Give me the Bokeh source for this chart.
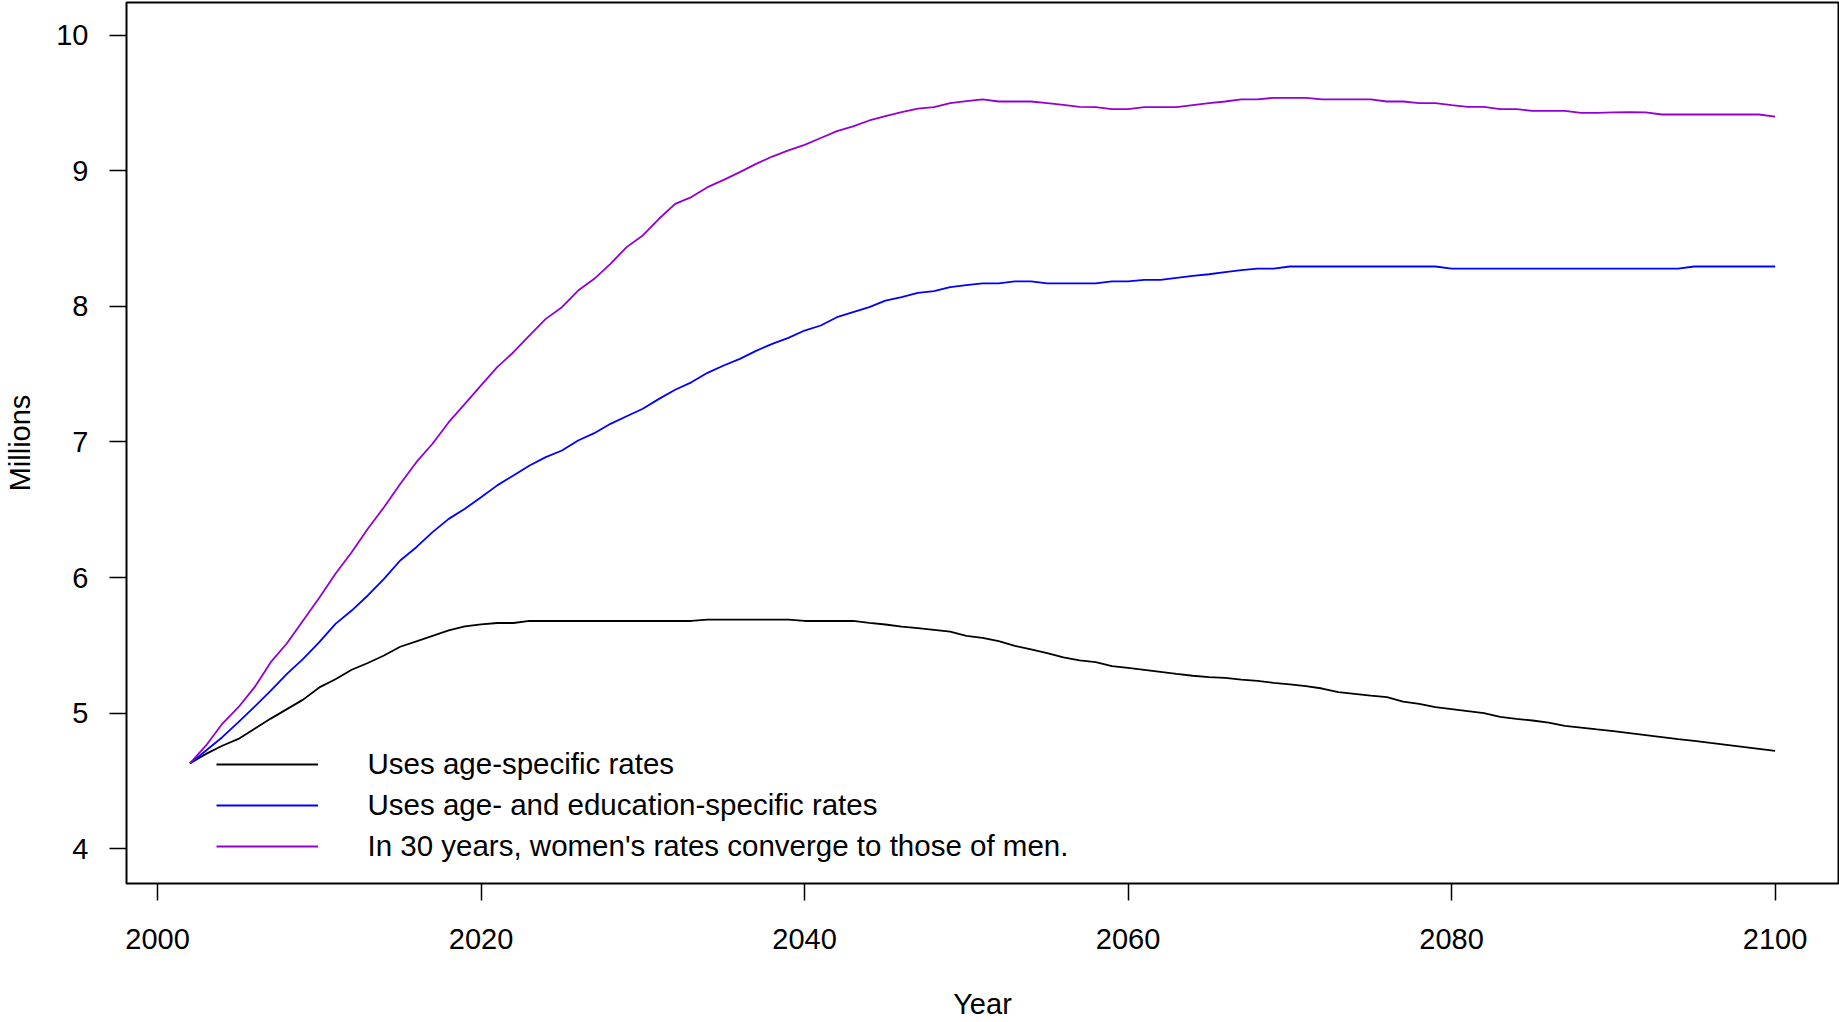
from bokeh.plotting import figure
from bokeh.models import Range1d, Legend, LegendItem, FixedTicker
from bokeh.embed import file_html
from bokeh.resources import INLINE

years = list(range(2002, 2101))

age_specific = [
    4.63, 4.70, 4.76, 4.81, 4.885, 4.96, 5.03, 5.10, 5.19, 5.25,
    5.32, 5.37, 5.425, 5.49, 5.53, 5.57, 5.61, 5.64, 5.655, 5.665,
    5.665, 5.68, 5.68, 5.68, 5.68, 5.68, 5.68, 5.68, 5.68, 5.68,
    5.68, 5.68, 5.69, 5.69, 5.69, 5.69, 5.69, 5.69, 5.68, 5.68,
    5.68, 5.68, 5.666, 5.654, 5.639, 5.627, 5.615, 5.602, 5.57, 5.556,
    5.531, 5.497, 5.47, 5.443, 5.411, 5.389, 5.376, 5.347, 5.334, 5.32,
    5.305, 5.29, 5.276, 5.266, 5.261, 5.248, 5.239, 5.224, 5.212, 5.199,
    5.182, 5.155, 5.143, 5.13, 5.118, 5.086, 5.069, 5.044, 5.03, 5.015,
    5.0, 4.973, 4.958, 4.946, 4.931, 4.907, 4.894, 4.88, 4.867, 4.853,
    4.838, 4.823, 4.808, 4.796, 4.781, 4.767, 4.752, 4.737, 4.722,
]

age_education = [
    4.63, 4.725, 4.823, 4.934, 5.049, 5.167, 5.29, 5.401, 5.524, 5.659,
    5.757, 5.868, 5.991, 6.126, 6.224, 6.335, 6.433, 6.507, 6.593, 6.68,
    6.753, 6.827, 6.888, 6.937, 7.011, 7.065, 7.134, 7.19, 7.245, 7.318,
    7.385, 7.44, 7.51, 7.564, 7.613, 7.672, 7.724, 7.768, 7.822, 7.859,
    7.92, 7.957, 7.994, 8.043, 8.068, 8.1, 8.112, 8.142, 8.157, 8.169,
    8.169, 8.184, 8.184, 8.169, 8.169, 8.169, 8.169, 8.184, 8.184, 8.196,
    8.196, 8.211, 8.225, 8.237, 8.252, 8.267, 8.279, 8.279, 8.294, 8.294,
    8.294, 8.294, 8.294, 8.294, 8.294, 8.294, 8.294, 8.294, 8.279, 8.279,
    8.279, 8.279, 8.279, 8.279, 8.279, 8.279, 8.279, 8.279, 8.279, 8.279,
    8.279, 8.279, 8.279, 8.294, 8.294, 8.294, 8.294, 8.294, 8.294,
]

converge_30 = [
    4.63, 4.762, 4.922, 5.044, 5.192, 5.376, 5.516, 5.684, 5.851, 6.028,
    6.187, 6.36, 6.519, 6.69, 6.851, 6.987, 7.146, 7.281, 7.417, 7.552,
    7.662, 7.786, 7.908, 7.994, 8.117, 8.203, 8.314, 8.437, 8.523, 8.646,
    8.756, 8.806, 8.879, 8.933, 8.99, 9.051, 9.105, 9.15, 9.191, 9.242,
    9.292, 9.327, 9.371, 9.403, 9.432, 9.459, 9.469, 9.499, 9.513, 9.526,
    9.511, 9.511, 9.511, 9.499, 9.486, 9.472, 9.469, 9.454, 9.454, 9.469,
    9.469, 9.469, 9.484, 9.499, 9.511, 9.526, 9.526, 9.538, 9.538, 9.538,
    9.526, 9.526, 9.526, 9.526, 9.511, 9.511, 9.499, 9.499, 9.484, 9.472,
    9.472, 9.454, 9.454, 9.442, 9.442, 9.442, 9.427, 9.427, 9.43, 9.432,
    9.43, 9.415, 9.415, 9.415, 9.415, 9.415, 9.415, 9.415, 9.40,
]

labels = [
    "Uses age-specific rates",
    "Uses age- and education-specific rates",
    "In 30 years, women's rates converge to those of men.",
]
colors = ["black", "#0000FF", "#9400D3"]

x_ticks = [2000, 2020, 2040, 2060, 2080, 2100]
y_ticks = [4, 5, 6, 7, 8, 9, 10]

FONT = "Liberation Sans"

p = figure(
    width=1839, height=1022,
    output_backend="svg", toolbar_location=None,
    x_range=Range1d(1998.08, 2103.92),
    y_range=Range1d(3.744, 10.241),
    min_border_left=126, min_border_right=1,
    min_border_top=2, min_border_bottom=139,
)
p.xgrid.visible = False
p.ygrid.visible = False
p.outline_line_color = "black"
p.outline_line_width = 2
p.outline_line_alpha = 1.0
p.background_fill_color = "white"
p.border_fill_color = "white"

renderers = []
for series, col in zip([age_specific, age_education, converge_30], colors):
    r = p.line(years, series, line_color=col, line_width=1.8)
    renderers.append(r)

for ax in (p.xaxis[0], p.yaxis[0]):
    ax.axis_line_color = None
    ax.major_tick_in = 0
    ax.major_tick_out = 17
    ax.major_tick_line_color = "black"
    ax.major_tick_line_width = 1.5
    ax.minor_tick_line_color = None
    ax.minor_tick_in = 0
    ax.minor_tick_out = 0
    ax.major_label_text_font = FONT
    ax.major_label_text_font_size = "29px"
    ax.major_label_text_color = "black"
    ax.axis_label_text_font = FONT
    ax.axis_label_text_font_size = "29px"
    ax.axis_label_text_font_style = "normal"
    ax.axis_label_text_color = "black"

p.xaxis.ticker = FixedTicker(ticks=x_ticks)
p.yaxis.ticker = FixedTicker(ticks=y_ticks)
p.xaxis.axis_label = "Year"
p.yaxis.axis_label = "Millions"
p.xaxis.major_label_standoff = 28
p.xaxis.axis_label_standoff = 36
p.yaxis.major_label_standoff = 21
p.yaxis.major_label_orientation = "horizontal"
p.yaxis.axis_label_standoff = 17

legend = Legend(
    items=[LegendItem(label=lab, renderers=[r]) for lab, r in zip(labels, renderers)],
    location=(89.5, 19),
    padding=0, margin=0, spacing=5,
    glyph_width=102, glyph_height=36, label_height=36,
    label_standoff=50,
    label_text_font=FONT, label_text_font_size="29.5px",
    label_text_color="black",
    border_line_color=None, background_fill_alpha=0,
)
p.add_layout(legend)

open("out.html", "w").write(file_html(p, INLINE))
